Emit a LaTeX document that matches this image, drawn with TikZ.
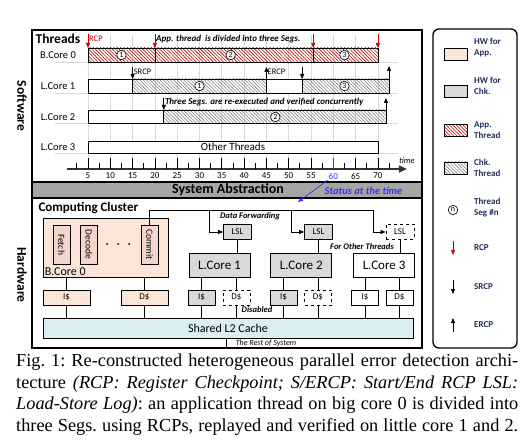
\documentclass[tikz,border=0pt]{standalone}
\usepackage{fontspec}
\usepackage{graphicx}
\setmainfont{Liberation Serif}
\newfontfamily\diag{Carlito}
\usetikzlibrary{positioning,patterns.meta,arrows.meta}

\definecolor{hwapp}{HTML}{FBE5D6}
\definecolor{hwstage}{HTML}{F4D5CE}
\definecolor{hwchk}{HTML}{D9D9D9}
\definecolor{ltwo}{HTML}{DAEEF3}
\definecolor{sysbar}{HTML}{A6A6A6}
\definecolor{rcpred}{HTML}{C00000}
\definecolor{stblue}{HTML}{3333FF}
\definecolor{legtext}{HTML}{1F2D5A}
\definecolor{gridgray}{HTML}{D9D9D9}

\begin{document}
\begin{tikzpicture}[x=1pt,y=-1pt,font=\diag]
			\tikzset{
				mybar/.style={draw=black, line width=0.7pt},
				myappbar/.style={mybar, pattern={Lines[angle=-45,distance=2.4pt,line width=0.6pt]}, pattern color=rcpred},
				mychkbar/.style={mybar, pattern={Lines[angle=-45,distance=2.4pt,line width=0.5pt]}, pattern color=black!55},
				mywhitebar/.style={mybar, fill=white},
				myseg/.style={circle, draw=black, line width=0.6pt, fill=white, inner sep=0pt, minimum size=9.5pt, font=\diag\fontsize{8}{8}\selectfont},
				myrcp/.style={-{Triangle[width=4pt,length=5pt]}, rcpred, line width=0.7pt},
				mysrcp/.style={-{Triangle[width=4pt,length=5pt]}, black, line width=0.7pt},
				mygrid/.style={gridgray, line width=0.8pt},
				myaxis/.style={black!80, line width=1.2pt, -{Triangle[width=7pt,length=8pt]}},
				mytick/.style={font=\diag\fontsize{9}{10}\selectfont, inner sep=1pt},
				mynote/.style={anchor=west, inner sep=1pt, font=\diag\bfseries\itshape\fontsize{9}{10}\selectfont},
				mymark/.style={anchor=west, inner sep=1pt, font=\diag\fontsize{8.5}{10}\selectfont},
				myrow/.style={font=\diag\fontsize{10.5}{12}\selectfont},
				myside/.style={rotate=-90, font=\diag\bfseries\fontsize{13.5}{15}\selectfont},
				mycore/.style={rectangle, draw=black, line width=0.8pt, fill=hwchk, minimum width=61pt, minimum height=24pt, inner sep=0pt, font=\diag\fontsize{13}{14}\selectfont},
				mycache/.style={rectangle, draw=black, line width=0.8pt, fill=hwchk, minimum width=27pt, minimum height=15pt, inner sep=0pt, font=\diag\fontsize{9}{10}\selectfont},
				myoff/.style={dashed, fill=white},
				mystage/.style={rectangle, draw=black, line width=0.8pt, fill=hwstage, minimum width=17pt, minimum height=39pt, inner sep=0pt, font=\diag\fontsize{9.5}{10}\selectfont},
				mywire/.style={line width=0.7pt},
				myfwd/.style={mywire, -{Triangle[width=4pt,length=5pt]}},
				mylegend/.style={anchor=west, align=left, text=legtext, inner sep=0pt, font=\diag\bfseries\fontsize{9}{11}\selectfont},
				mykey/.style={rectangle, draw=black, line width=0.8pt, minimum width=23pt, minimum height=12pt, inner sep=0pt},
				mycaption/.style={anchor=north west, inner sep=0pt, align=left, font=\rmfamily\frenchspacing\fontsize{18.3}{21.7}\selectfont}
			}

			\useasboundingbox (0,0) rectangle (527,446);

			% frames
			\draw[line width=1.6pt] (32,30) rectangle (422,348);
			\draw[line width=1.6pt, fill=sysbar] (32,182) rectangle (422,198);
			\node[font=\diag\bfseries\fontsize{14}{16}\selectfont] (sysabs) at (228,190) {System Abstraction};
			\node[myside] (sw) at (22,106) {Software};
			\node[myside] (hw) at (22,275) {Hardware};
			\draw[line width=1.3pt, rounded corners=6pt] (433,29) rectangle (517,348);

			% row labels
			\node[font=\diag\bfseries\fontsize{13.5}{15}\selectfont] (threads) at (58,39) {Threads};
			\node[myrow] (r0) at (58,55) {B.Core 0};
			\node[myrow] (r1) at (58,86) {L.Core 1};
			\node[myrow] (r2) at (58,117) {L.Core 2};
			\node[myrow] (r3) at (58,147) {L.Core 3};

			% timeline, x in time units
			\begin{scope}[x=4.46pt, xshift=65.7pt]
				\foreach \t in {5,10,...,70} {
					\draw[mygrid] (\t,35) -- (\t,158);
				}
				\foreach \y in {62,93,123,153} {
					\draw[mygrid] (-2.3,\y) -- (74.5,\y);
				}

				% B.Core 0
				\draw[myappbar] (5,48) rectangle (20,62);
				\draw[myappbar] (20,48) rectangle (55.5,62);
				\draw[myappbar] (55.5,48) rectangle (70,62);
				\node[myseg] (s01) at (12.5,55) {1};
				\node[myseg] (s02) at (37,55) {2};
				\node[myseg] (s03) at (62.5,55) {3};
				\foreach \t in {5,20,55.5,70} {
					\draw[myrcp] (\t,34) -- (\t,48);
				}
				\node[mymark, text=rcpred] (rcp) at (5,39) {RCP};
				\node[mynote] (divided) at (20,39) {App. thread~ is divided into three Segs.};

				% L.Core 1
				\draw[mywhitebar] (5,79) rectangle (15,93);
				\draw[mychkbar] (15,79) rectangle (45,93);
				\draw[mywhitebar] (45,79) rectangle (53,93);
				\draw[mychkbar] (53,79) rectangle (72.5,93);
				\node[myseg] (s11) at (30,86) {1};
				\node[myseg] (s13) at (62.5,86) {3};
				\draw[mysrcp] (15,67) -- (15,79);
				\draw[mysrcp] (53,67) -- (53,79);
				\draw[mysrcp] (45,79) -- (45,67);
				\draw[mysrcp] (72.5,79) -- (72.5,66);
				\node[mymark] (srcp) at (15,72) {SRCP};
				\node[mymark] (ercp) at (45,72) {ERCP};

				% L.Core 2
				\draw[mywhitebar] (5,110) rectangle (22,123);
				\draw[mychkbar] (22,110) rectangle (71.8,123);
				\node[myseg] (s22) at (47,117) {2};
				\draw[mysrcp] (22,98) -- (22,110);
				\draw[mysrcp] (71.8,110) -- (71.8,98);
				\node[mynote] (replay) at (22,102) {Three Segs. are re-executed and verified concurrently};

				% L.Core 3
				\draw[mywhitebar] (5,141) rectangle (70,153);
				\node[font=\diag\fontsize{11}{12}\selectfont] (other) at (37.5,147) {Other Threads};

				% axis
				\draw[myaxis] (0.3,169) -- (76.5,169);
				\foreach \t in {5,10,...,55,65,70} {
					\draw[line width=0.8pt] (\t,158) -- (\t,169);
					\node[mytick] at (\t,176) {\t};
				}
				\foreach \t in {2.5,7.5,...,72.5} {
					\draw[line width=0.8pt] (\t,163) -- (\t,169);
				}
				\draw[stblue, line width=0.9pt] (60,158) -- (60,169);
				\node[mytick, text=stblue] (t60) at (60,176) {60};
				\node[font=\diag\itshape\fontsize{8.5}{10}\selectfont] (time) at (76.5,161) {time};
			\end{scope}

			% status at the time
			\coordinate (stend) at (298,202);
			\draw[stblue, line width=0.7pt, -{Triangle[width=4pt,length=5pt]}] (t60.south west) -- (stend);
			\node[font=\diag\bfseries\itshape\fontsize{10.5}{12}\selectfont, text=stblue] (status) at (363.5,191) {Status at the time};

			% computing cluster
			\node[anchor=west, font=\diag\bfseries\fontsize{13}{15}\selectfont] (cluster) at (35,208) {Computing Cluster};
			\node[rectangle, draw=black, line width=0.8pt, fill=hwapp, minimum width=125pt, minimum height=59pt] (bcore) at (105.5,247.5) {};
			\node[anchor=south west, inner sep=2pt, font=\diag\fontsize{12}{13}\selectfont] (bname) at (bcore.south west) {B.Core 0};
			\node[mystage] (fetch) at (61.5,244.5) {\rotatebox{-90}{Fetch}};
			\node[mystage] (decode) at (89,244.5) {\rotatebox{-90}{Decode}};
			\node[mystage] (commit) at (149.5,244.5) {\rotatebox{-90}{Commit}};
			\foreach \x in {107,118,129} {
				\fill (\x,244) circle (1pt);
			}

			\node[mycore] (lc1) at (219.5,265) {L.Core 1};
			\node[mycore, right=20pt of lc1] (lc2) {L.Core 2};
			\node[mycore, fill=white, right=21pt of lc2] (lc3) {L.Core 3};

			\node[mycache, minimum width=28pt] (lsl1) at (237.5,232) {LSL};
			\node[mycache, minimum width=28pt] (lsl2) at (318.5,232) {LSL};
			\node[mycache, minimum width=28pt, myoff] (lsl3) at (400,232) {LSL};

			\node[mycache, fill=hwapp, minimum width=47pt] (bi) at (66.5,297.5) {I\$};
			\node[mycache, fill=hwapp, minimum width=47pt] (bd) at (144.5,297.5) {D\$};
			\node[mycache] (li1) at (201.5,297.5) {I\$};
			\node[mycache, myoff] (ld1) at (236.5,297.5) {D\$};
			\node[mycache] (li2) at (283.5,297.5) {I\$};
			\node[mycache, myoff] (ld2) at (318,297.5) {D\$};
			\node[mycache, fill=white] (li3) at (365,297.5) {I\$};
			\node[mycache, fill=white] (ld3) at (399.5,297.5) {D\$};

			\node[rectangle, draw=black, line width=0.8pt, fill=ltwo, minimum width=370pt, minimum height=20pt, font=\diag\fontsize{12}{13}\selectfont] (l2) at (228,328) {Shared L2 Cache};

			\foreach \c/\k in {bcore/bi, bcore/bd, lc1/li1, lc1/ld1, lc2/li2, lc2/ld2, lc3/li3, lc3/ld3} {
				\draw[mywire] (\k.north) -- (\k.north |- \c.south);
				\draw[mywire] (\k.south) -- (\k.south |- l2.north);
			}
			\foreach \n in {1,2,3} {
				\draw[mywire] (lsl\n.south) -- (lsl\n.south |- lc\n.north);
			}

			% data forwarding
			\coordinate (fwd1) at (209,210);
			\coordinate (fwd2) at (291,210);
			\coordinate (fwd3) at (373,210);
			\draw[mywire] (commit.north) |- (fwd3);
			\foreach \n in {1,2,3} {
				\draw[myfwd] (fwd\n) |- (lsl\n.west);
			}
			\node[mynote, anchor=center, font=\diag\bfseries\itshape\fontsize{8.5}{10}\selectfont] (dfwd) at (250,216) {Data Forwarding};
			\node[mynote, anchor=center, font=\diag\bfseries\itshape\fontsize{8.5}{10}\selectfont] (forother) at (362,246.5) {For Other Threads};
			\node[mynote, anchor=center, font=\diag\bfseries\itshape\fontsize{8.5}{10}\selectfont] (disabled) at (257,310) {Disabled};

			% rest of system
			\draw[mywire] (226,338) -- (226,348);
			\node[font=\diag\itshape\fontsize{8}{9}\selectfont, inner sep=0pt] (rest) at (266,343) {The Rest of System};

			% legend
			\node[mykey, fill=hwapp] (k1) at (455.5,54) {};
			\node[mylegend] (l1) at (474,48) {HW for\\App.};
			\node[mykey, fill=hwchk] (k2) at (455.5,91) {};
			\node[mylegend] (l2t) at (474,86) {HW for\\Chk.};
			\node[mykey, myappbar] (k3) at (455.5,130.5) {};
			\node[mylegend] (l3) at (474,130) {App.\\Thread};
			\node[mykey, mychkbar] (k4) at (455.5,168) {};
			\node[mylegend] (l4) at (474,168) {Chk.\\Thread};
			\node[myseg] (k5) at (453,210) {n};
			\node[mylegend] (l5) at (474,208) {Thread\\Seg \#n};
			\coordinate (k6a) at (453,241);
			\coordinate (k6b) at (453,255);
			\draw[myrcp] (k6a) -- (k6b);
			\node[mylegend] (l6) at (474,248) {RCP};
			\coordinate (k7a) at (453,280);
			\coordinate (k7b) at (453,294);
			\draw[mysrcp] (k7a) -- (k7b);
			\node[mylegend] (l7) at (474,287) {SRCP};
			\coordinate (k8a) at (453,332);
			\coordinate (k8b) at (453,318);
			\draw[mysrcp] (k8a) -- (k8b);
			\node[mylegend] (l8) at (474,325) {ERCP};

			% caption
			\node[mycaption] (caption) at (16,353.5) {\hbox to 502pt{Fig.~1: Re-constructed heterogeneous parallel error detection archi-}\\
				\hbox to 502pt{tecture \textit{(RCP: Register Checkpoint; S/ERCP: Start/End RCP LSL:}}\\
				\hbox to 502pt{\textit{Load-Store Log)}: an application thread on big core 0 is divided into}\\
				\hbox to 502pt{three Segs. using RCPs, replayed and verified on little core 1 and 2.}};
		\end{tikzpicture}
\end{document}
